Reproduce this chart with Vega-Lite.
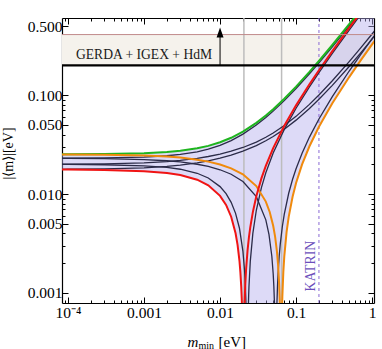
{
  "$schema": "https://vega.github.io/schema/vega-lite/v6.json",
  "width": 312,
  "height": 285,
  "autosize": {"type": "none"},
  "padding": {"left": 62, "top": 18, "right": 8, "bottom": 46},
  "background": "white",
  "config": {
    "font": "Liberation Serif",
    "view": {"stroke": null},
    "axis": {
      "domainColor": "black", "domainWidth": 1.2, "tickColor": "black", "tickWidth": 1,
      "grid": false, "labelFont": "Liberation Serif", "labelFontSize": 15.5, "labelColor": "black",
      "titleFont": "Liberation Serif", "titleFontWeight": "normal", "titleColor": "black",
      "titleFontSize": 15, "labelFlush": false, "labelOverlap": false
    }
  },
  "datasets": {
    "dark": [
      {"c":"D2","m":8e-5,"v":0.023051},{"c":"D2","m":1e-4,"v":0.023064},{"c":"D2","m":3e-4,"v":0.023201},{"c":"D2","m":1e-3,"v":0.023689},{"c":"D2","m":2e-3,"v":0.024413},{"c":"D2","m":3e-3,"v":0.02517},{"c":"D2","m":5e-3,"v":0.026767},{"c":"D2","m":7e-3,"v":0.028454},{"c":"D2","m":0.01,"v":0.031098},{"c":"D2","m":0.014,"v":0.034752},{"c":"D2","m":0.02,"v":0.040367},{"c":"D2","m":0.03,"v":0.04986},{"c":"D2","m":0.04,"v":0.059406},{"c":"D2","m":0.05,"v":0.068965},{"c":"D2","m":0.07,"v":0.088087},{"c":"D2","m":0.1,"v":0.116752},{"c":"D2","m":0.15,"v":0.164497},{"c":"D2","m":0.2,"v":0.212221},{"c":"D2","m":0.3,"v":0.307647},{"c":"D2","m":0.5,"v":0.498468},{"c":"D2","m":0.7,"v":0.689277},
      {"c":"D3","m":8e-5,"v":0.020057},{"c":"D3","m":1e-4,"v":0.02007},{"c":"D3","m":3e-4,"v":0.020203},{"c":"D3","m":1e-3,"v":0.020659},{"c":"D3","m":2e-3,"v":0.021283},{"c":"D3","m":3e-3,"v":0.021874},{"c":"D3","m":5e-3,"v":0.022973},{"c":"D3","m":7e-3,"v":0.023982},{"c":"D3","m":0.01,"v":0.025382},{"c":"D3","m":0.014,"v":0.02712},{"c":"D3","m":0.02,"v":0.029593},{"c":"D3","m":0.03,"v":0.03358},{"c":"D3","m":0.04,"v":0.037514},{"c":"D3","m":0.05,"v":0.041435},{"c":"D3","m":0.07,"v":0.049273},{"c":"D3","m":0.1,"v":0.061048},{"c":"D3","m":0.15,"v":0.080703},{"c":"D3","m":0.2,"v":0.100379},{"c":"D3","m":0.3,"v":0.139753},{"c":"D3","m":0.5,"v":0.218532},{"c":"D3","m":0.7,"v":0.297323},{"c":"D3","m":1.0,"v":0.415517},{"c":"D3","m":1.1,"v":0.454915},
      {"c":"D4","m":8e-5,"v":0.017803},{"c":"D4","m":1e-4,"v":0.017816},{"c":"D4","m":3e-4,"v":0.017949},{"c":"D4","m":1e-3,"v":0.018405},{"c":"D4","m":2e-3,"v":0.019027},{"c":"D4","m":3e-3,"v":0.019616},{"c":"D4","m":5e-3,"v":0.020707},{"c":"D4","m":7e-3,"v":0.021706},{"c":"D4","m":0.01,"v":0.023082},{"c":"D4","m":0.014,"v":0.024776},{"c":"D4","m":0.02,"v":0.027159},{"c":"D4","m":0.03,"v":0.030938},{"c":"D4","m":0.04,"v":0.034604},{"c":"D4","m":0.05,"v":0.038215},{"c":"D4","m":0.07,"v":0.045343},{"c":"D4","m":0.1,"v":0.055926},{"c":"D4","m":0.15,"v":0.073445},{"c":"D4","m":0.2,"v":0.090907},{"c":"D4","m":0.3,"v":0.125771},{"c":"D4","m":0.5,"v":0.194922},{"c":"D4","m":0.7,"v":0.265045},{"c":"D4","m":1.0,"v":0.369461},{"c":"D4","m":1.1,"v":0.404265},
      {"c":"D6","m":8e-5,"v":0.019949},{"c":"D6","m":1e-4,"v":0.019936},{"c":"D6","m":3e-4,"v":0.019799},{"c":"D6","m":1e-3,"v":0.019311},{"c":"D6","m":2e-3,"v":0.018587},{"c":"D6","m":3e-3,"v":0.01783},{"c":"D6","m":5e-3,"v":0.016233},{"c":"D6","m":7e-3,"v":0.014546},{"c":"D6","m":0.01,"v":0.011902},{"c":"D6","m":0.012,"v":0.010088},{"c":"D6","m":0.014,"v":0.008248},{"c":"D6","m":0.016,"v":0.006388},{"c":"D6","m":0.018,"v":0.004516},{"c":"D6","m":0.02,"v":0.002633},{"c":"D6","m":0.021,"v":0.001689},{"c":"D6","m":0.0215,"v":0.001216},{"c":"D6","m":0.022,"v":0.000743},{"c":"D6","m":0.0222,"v":0.000554},{"c":"D6","m":0.0225,"v":0.00027},{"c":"D6","m":0.02279,"v":0.00001},{"c":"D6","m":0.0231,"v":0.000298},{"c":"D6","m":0.0235,"v":0.000678},{"c":"D6","m":0.0238,"v":0.000962},{"c":"D6","m":0.024,"v":0.001152},{"c":"D6","m":0.025,"v":0.002102},{"c":"D6","m":0.027,"v":0.004003},{"c":"D6","m":0.03,"v":0.00686},{"c":"D6","m":0.035,"v":0.01163},{"c":"D6","m":0.04,"v":0.016406},{"c":"D6","m":0.05,"v":0.025965},{"c":"D6","m":0.07,"v":0.045087},{"c":"D6","m":0.1,"v":0.073752},{"c":"D6","m":0.15,"v":0.121497},{"c":"D6","m":0.2,"v":0.169221},{"c":"D6","m":0.3,"v":0.264647},{"c":"D6","m":0.5,"v":0.455468},{"c":"D6","m":0.7,"v":0.646277},
      {"c":"D7","m":8e-5,"v":0.022943},{"c":"D7","m":1e-4,"v":0.02293},{"c":"D7","m":3e-4,"v":0.022797},{"c":"D7","m":1e-3,"v":0.022341},{"c":"D7","m":2e-3,"v":0.021717},{"c":"D7","m":3e-3,"v":0.021126},{"c":"D7","m":5e-3,"v":0.020027},{"c":"D7","m":7e-3,"v":0.019018},{"c":"D7","m":0.01,"v":0.017618},{"c":"D7","m":0.014,"v":0.01588},{"c":"D7","m":0.02,"v":0.013407},{"c":"D7","m":0.03,"v":0.00942},{"c":"D7","m":0.04,"v":0.005486},{"c":"D7","m":0.044,"v":0.003918},{"c":"D7","m":0.048,"v":0.00235},{"c":"D7","m":0.05,"v":0.001565},{"c":"D7","m":0.051,"v":0.001174},{"c":"D7","m":0.052,"v":0.000782},{"c":"D7","m":0.053,"v":0.00039},{"c":"D7","m":0.054,"v":0.00001},{"c":"D7","m":0.055,"v":0.000394},{"c":"D7","m":0.056,"v":0.000785},{"c":"D7","m":0.057,"v":0.00118},{"c":"D7","m":0.058,"v":0.001569},{"c":"D7","m":0.06,"v":0.002354},{"c":"D7","m":0.062,"v":0.003137},{"c":"D7","m":0.066,"v":0.004704},{"c":"D7","m":0.07,"v":0.006273},{"c":"D7","m":0.08,"v":0.010197},{"c":"D7","m":0.09,"v":0.014121},{"c":"D7","m":0.1,"v":0.018048},{"c":"D7","m":0.12,"v":0.025906},{"c":"D7","m":0.15,"v":0.037703},{"c":"D7","m":0.2,"v":0.057379},{"c":"D7","m":0.3,"v":0.096753},{"c":"D7","m":0.5,"v":0.175532},{"c":"D7","m":0.7,"v":0.254323},{"c":"D7","m":1.0,"v":0.372517},{"c":"D7","m":1.1,"v":0.411915}
    ],
    "colored": [
      {"c":"G","m":8e-5,"v":0.025305},{"c":"G","m":1e-4,"v":0.025318},{"c":"G","m":3e-4,"v":0.025455},{"c":"G","m":1e-3,"v":0.025943},{"c":"G","m":2e-3,"v":0.026669},{"c":"G","m":3e-3,"v":0.027428},{"c":"G","m":5e-3,"v":0.029033},{"c":"G","m":7e-3,"v":0.03073},{"c":"G","m":0.01,"v":0.033398},{"c":"G","m":0.014,"v":0.037096},{"c":"G","m":0.02,"v":0.042801},{"c":"G","m":0.03,"v":0.052502},{"c":"G","m":0.04,"v":0.062316},{"c":"G","m":0.05,"v":0.072185},{"c":"G","m":0.07,"v":0.092017},{"c":"G","m":0.1,"v":0.121874},{"c":"G","m":0.15,"v":0.171755},{"c":"G","m":0.2,"v":0.221693},{"c":"G","m":0.3,"v":0.321629},{"c":"G","m":0.5,"v":0.521578},{"c":"G","m":0.7,"v":0.721555},
      {"c":"O","m":8e-5,"v":0.025197},{"c":"O","m":1e-4,"v":0.025184},{"c":"O","m":3e-4,"v":0.025051},{"c":"O","m":1e-3,"v":0.024595},{"c":"O","m":2e-3,"v":0.023973},{"c":"O","m":3e-3,"v":0.023384},{"c":"O","m":5e-3,"v":0.022293},{"c":"O","m":7e-3,"v":0.021294},{"c":"O","m":0.01,"v":0.019918},{"c":"O","m":0.014,"v":0.018224},{"c":"O","m":0.02,"v":0.015841},{"c":"O","m":0.03,"v":0.012062},{"c":"O","m":0.04,"v":0.008396},{"c":"O","m":0.045,"v":0.00659},{"c":"O","m":0.05,"v":0.004785},{"c":"O","m":0.053,"v":0.003713},{"c":"O","m":0.056,"v":0.002637},{"c":"O","m":0.058,"v":0.001924},{"c":"O","m":0.06,"v":0.00121},{"c":"O","m":0.061,"v":0.000854},{"c":"O","m":0.062,"v":0.000497},{"c":"O","m":0.0625,"v":0.00032},{"c":"O","m":0.0634,"v":0.00001},{"c":"O","m":0.0643,"v":0.00032},{"c":"O","m":0.065,"v":0.000568},{"c":"O","m":0.066,"v":0.000924},{"c":"O","m":0.068,"v":0.001634},{"c":"O","m":0.07,"v":0.002343},{"c":"O","m":0.075,"v":0.004114},{"c":"O","m":0.08,"v":0.005881},{"c":"O","m":0.09,"v":0.009407},{"c":"O","m":0.1,"v":0.012926},{"c":"O","m":0.12,"v":0.019944},{"c":"O","m":0.15,"v":0.030445},{"c":"O","m":0.2,"v":0.047907},{"c":"O","m":0.3,"v":0.082771},{"c":"O","m":0.5,"v":0.152422},{"c":"O","m":0.7,"v":0.222045},{"c":"O","m":1.0,"v":0.326461},{"c":"O","m":1.1,"v":0.361265},
      {"c":"R","m":8e-5,"v":0.017695},{"c":"R","m":1e-4,"v":0.017682},{"c":"R","m":3e-4,"v":0.017545},{"c":"R","m":1e-3,"v":0.017057},{"c":"R","m":2e-3,"v":0.016331},{"c":"R","m":3e-3,"v":0.015572},{"c":"R","m":5e-3,"v":0.013967},{"c":"R","m":7e-3,"v":0.01227},{"c":"R","m":0.01,"v":0.009602},{"c":"R","m":0.012,"v":0.007768},{"c":"R","m":0.014,"v":0.005904},{"c":"R","m":0.016,"v":0.004018},{"c":"R","m":0.017,"v":0.003068},{"c":"R","m":0.018,"v":0.002116},{"c":"R","m":0.0185,"v":0.001636},{"c":"R","m":0.019,"v":0.001158},{"c":"R","m":0.0193,"v":0.00087},{"c":"R","m":0.0196,"v":0.000582},{"c":"R","m":0.0199,"v":0.000295},{"c":"R","m":0.0202,"v":0.00001},{"c":"R","m":0.0205,"v":0.000282},{"c":"R","m":0.0208,"v":0.00057},{"c":"R","m":0.0211,"v":0.000859},{"c":"R","m":0.0215,"v":0.001245},{"c":"R","m":0.022,"v":0.001727},{"c":"R","m":0.023,"v":0.002694},{"c":"R","m":0.024,"v":0.003662},{"c":"R","m":0.025,"v":0.004632},{"c":"R","m":0.027,"v":0.006577},{"c":"R","m":0.03,"v":0.009502},{"c":"R","m":0.035,"v":0.0144},{"c":"R","m":0.04,"v":0.019316},{"c":"R","m":0.05,"v":0.029185},{"c":"R","m":0.07,"v":0.049017},{"c":"R","m":0.1,"v":0.078874},{"c":"R","m":0.15,"v":0.128755},{"c":"R","m":0.2,"v":0.178693},{"c":"R","m":0.3,"v":0.278629},{"c":"R","m":0.5,"v":0.478578},{"c":"R","m":0.7,"v":0.678555}
    ],
    "band": [
      {"m":8e-5,"lo":0.017695,"hi":0.025305},{"m":1e-4,"lo":0.017682,"hi":0.025318},{"m":3e-4,"lo":0.017545,"hi":0.025455},{"m":1e-3,"lo":0.017057,"hi":0.025943},{"m":2e-3,"lo":0.016331,"hi":0.026669},{"m":3e-3,"lo":0.015572,"hi":0.027428},{"m":5e-3,"lo":0.013967,"hi":0.029033},{"m":7e-3,"lo":0.01227,"hi":0.03073},{"m":0.01,"lo":0.009602,"hi":0.033398},{"m":0.012,"lo":0.007768,"hi":0.035232},{"m":0.014,"lo":0.005904,"hi":0.037096},{"m":0.016,"lo":0.004018,"hi":0.038982},{"m":0.017,"lo":0.003068,"hi":0.039932},{"m":0.018,"lo":0.002116,"hi":0.040884},{"m":0.0185,"lo":0.001636,"hi":0.041363},{"m":0.019,"lo":0.001158,"hi":0.041842},{"m":0.0193,"lo":0.00087,"hi":0.04213},{"m":0.0196,"lo":0.000582,"hi":0.042418},{"m":0.0199,"lo":0.000295,"hi":0.042705},{"m":0.0202,"lo":0.00001,"hi":0.042993},{"m":0.03,"lo":0.00001,"hi":0.052502},{"m":0.04,"lo":0.00001,"hi":0.062316},{"m":0.05,"lo":0.00001,"hi":0.072185},{"m":0.0634,"lo":0.00001,"hi":0.085463},{"m":0.0643,"lo":0.00032,"hi":0.08636},{"m":0.065,"lo":0.000568,"hi":0.08705},{"m":0.066,"lo":0.000924,"hi":0.088044},{"m":0.068,"lo":0.001634,"hi":0.09003},{"m":0.07,"lo":0.002343,"hi":0.092017},{"m":0.075,"lo":0.004114,"hi":0.096986},{"m":0.08,"lo":0.005881,"hi":0.101959},{"m":0.09,"lo":0.009407,"hi":0.111913},{"m":0.1,"lo":0.012926,"hi":0.121874},{"m":0.12,"lo":0.019944,"hi":0.141816},{"m":0.15,"lo":0.030445,"hi":0.171755},{"m":0.2,"lo":0.047907,"hi":0.221693},{"m":0.3,"lo":0.082771,"hi":0.321629},{"m":0.5,"lo":0.152422,"hi":0.521578},{"m":0.7,"lo":0.222045,"hi":0.721555},{"m":1.0,"lo":0.326461,"hi":1.021539},{"m":1.1,"lo":0.361265,"hi":1.121535}
    ]
  },
  "layer": [
    {
      "data": {"values": [{"lo": 0.2, "hi": 0.41}]},
      "mark": {"type": "rect", "color": "#f5f2ec"},
      "encoding": {
        "y": {"field": "hi", "type": "quantitative", "scale": {"type": "log", "domain": [0.000792, 0.603], "nice": false}, "axis": null},
        "y2": {"field": "lo"}
      }
    },
    {
      "data": {"name": "band"},
      "mark": {"type": "area", "color": "#b3adee", "opacity": 0.45, "clip": true},
      "encoding": {
        "x": {"field": "m", "type": "quantitative", "scale": {"type": "log", "domain": [8.33e-5, 1.06], "nice": false},
          "axis": {"orient": "bottom",
            "values": [9e-5,1e-4,2e-4,3e-4,4e-4,5e-4,6e-4,7e-4,8e-4,9e-4,0.001,0.002,0.003,0.004,0.005,0.006,0.007,0.008,0.009,0.01,0.02,0.03,0.04,0.05,0.06,0.07,0.08,0.09,0.1,0.2,0.3,0.4,0.5,0.6,0.7,0.8,0.9,1],
            "labelExpr": "abs(datum.value - 0.0001) < 1e-9 ? '10⁻⁴' : (substring(format(datum.value,'.0e'),0,1) == '1' ? format(datum.value,'~g') : '')",
            "tickSize": {"condition": {"test": "substring(format(datum.value,'.0e'),0,1) == '1'", "value": -6}, "value": -3},
            "labelPadding": 8,
            "title": "m", "titleFontStyle": "italic", "titleX": 125, "titleY": 43, "titleAlign": "left", "titleBaseline": "alphabetic", "titleAngle": 0}},
        "y": {"field": "hi", "type": "quantitative", "scale": {"type": "log", "domain": [0.000792, 0.603], "nice": false},
          "axis": {"orient": "left",
            "values": [0.001,0.002,0.003,0.004,0.005,0.006,0.007,0.008,0.009,0.01,0.02,0.03,0.04,0.05,0.06,0.07,0.08,0.09,0.1,0.2,0.3,0.4,0.5],
            "labelExpr": "indexof(['0.001','0.005','0.010','0.050','0.100','0.500'], format(datum.value,'.3f')) >= 0 ? format(datum.value,'.3f') : ''",
            "tickSize": {"condition": {"test": "indexof(['0.001','0.005','0.010','0.050','0.100','0.500'], format(datum.value,'.3f')) >= 0", "value": -6}, "value": -3},
            "labelPadding": 6,
            "title": "|⟨m⟩|[eV]", "titleAngle": 270, "titleX": -50, "titleY": 135, "titleAlign": "center", "titleBaseline": "alphabetic", "titleFontSize": 14}},
        "y2": {"field": "lo"}
      }
    },
    {
      "data": {"values": [{"m": 0.0206}, {"m": 0.0645}]},
      "mark": {"type": "rule", "color": "#bdbdbd", "strokeWidth": 1.5},
      "encoding": {"x": {"field": "m", "type": "quantitative", "scale": {"type": "log", "domain": [8.33e-5, 1.06], "nice": false}, "axis": null}}
    },
    {
      "data": {"values": [{"m": 0.2}]},
      "mark": {"type": "rule", "color": "#8a6ad4", "strokeWidth": 1, "strokeDash": [3, 3]},
      "encoding": {"x": {"field": "m", "type": "quantitative", "scale": {"type": "log", "domain": [8.33e-5, 1.06], "nice": false}, "axis": null}}
    },
    {
      "data": {"name": "dark"},
      "mark": {"type": "line", "color": "#2b2b48", "strokeWidth": 1.3, "clip": true},
      "encoding": {
        "x": {"field": "m", "type": "quantitative", "scale": {"type": "log", "domain": [8.33e-5, 1.06], "nice": false},
          "axis": {"orient": "top", "labels": false,
            "values": [9e-5,1e-4,2e-4,3e-4,4e-4,5e-4,6e-4,7e-4,8e-4,9e-4,0.001,0.002,0.003,0.004,0.005,0.006,0.007,0.008,0.009,0.01,0.02,0.03,0.04,0.05,0.06,0.07,0.08,0.09,0.1,0.2,0.3,0.4,0.5,0.6,0.7,0.8,0.9,1],
            "tickSize": {"condition": {"test": "substring(format(datum.value,'.0e'),0,1) == '1'", "value": -6}, "value": -3},
            "title": "min", "titleFontSize": 10, "titleX": 136, "titleY": 330, "titleAlign": "left", "titleBaseline": "alphabetic", "titleAngle": 0}},
        "y": {"field": "v", "type": "quantitative", "scale": {"type": "log", "domain": [0.000792, 0.603], "nice": false},
          "axis": {"orient": "right", "labels": false,
            "values": [0.001,0.002,0.003,0.004,0.005,0.006,0.007,0.008,0.009,0.01,0.02,0.03,0.04,0.05,0.06,0.07,0.08,0.09,0.1,0.2,0.3,0.4,0.5],
            "tickSize": {"condition": {"test": "indexof(['0.001','0.005','0.010','0.050','0.100','0.500'], format(datum.value,'.3f')) >= 0", "value": -6}, "value": -3},
            "title": "[eV]", "titleAngle": 0, "titleX": -156, "titleY": 328, "titleAlign": "left", "titleBaseline": "alphabetic"}},
        "detail": {"field": "c", "type": "nominal"}
      }
    },
    {
      "data": {"name": "colored"},
      "mark": {"type": "line", "strokeWidth": 2, "clip": true},
      "encoding": {
        "x": {"field": "m", "type": "quantitative", "scale": {"type": "log", "domain": [8.33e-5, 1.06], "nice": false}, "axis": null},
        "y": {"field": "v", "type": "quantitative", "scale": {"type": "log", "domain": [0.000792, 0.603], "nice": false}, "axis": null},
        "color": {"field": "c", "type": "nominal", "scale": {"domain": ["G", "O", "R"], "range": ["#1fb51f", "#f08a0c", "#f01414"]}, "legend": null}
      }
    },
    {
      "data": {"values": [{"y": 0.41, "k": "top"}]},
      "mark": {"type": "rule", "color": "#c08a8a", "strokeWidth": 1},
      "encoding": {"y": {"field": "y", "type": "quantitative", "scale": {"type": "log", "domain": [0.000792, 0.603], "nice": false}, "axis": null}}
    },
    {
      "data": {"values": [{"y": 0.2, "k": "bound"}]},
      "mark": {"type": "rule", "color": "black", "strokeWidth": 2.2},
      "encoding": {"y": {"field": "y", "type": "quantitative", "scale": {"type": "log", "domain": [0.000792, 0.603], "nice": false}, "axis": null}}
    },
    {
      "data": {"values": [{"m": 0.01, "y1": 0.2, "y2": 0.42}]},
      "mark": {"type": "rule", "color": "black", "strokeWidth": 1},
      "encoding": {
        "x": {"field": "m", "type": "quantitative", "scale": {"type": "log", "domain": [8.33e-5, 1.06], "nice": false}, "axis": null},
        "y": {"field": "y1", "type": "quantitative", "scale": {"type": "log", "domain": [0.000792, 0.603], "nice": false}, "axis": null},
        "y2": {"field": "y2"}
      }
    },
    {
      "data": {"values": [{"m": 0.01, "y": 0.43}]},
      "mark": {"type": "point", "shape": "M0,-1L0.7,1L-0.7,1Z", "size": 100, "filled": true, "color": "black", "opacity": 1},
      "encoding": {
        "x": {"field": "m", "type": "quantitative", "scale": {"type": "log", "domain": [8.33e-5, 1.06], "nice": false}, "axis": null},
        "y": {"field": "y", "type": "quantitative", "scale": {"type": "log", "domain": [0.000792, 0.603], "nice": false}, "axis": null}
      }
    },
    {
      "data": {"values": [{"m": 0.001, "y": 0.255, "t": "GERDA + IGEX + HdM"}]},
      "mark": {"type": "text", "font": "Liberation Serif", "fontSize": 13.6, "color": "#1a1a1a", "align": "center", "baseline": "middle"},
      "encoding": {
        "x": {"field": "m", "type": "quantitative", "scale": {"type": "log", "domain": [8.33e-5, 1.06], "nice": false}, "axis": null},
        "y": {"field": "y", "type": "quantitative", "scale": {"type": "log", "domain": [0.000792, 0.603], "nice": false}, "axis": null},
        "text": {"field": "t"}
      }
    },
    {
      "data": {"values": [{"m": 0.2, "y": 0.00187, "t": "KATRIN"}]},
      "mark": {"type": "text", "font": "Liberation Serif", "fontSize": 13.8, "color": "#6b4fbb", "align": "center", "baseline": "alphabetic", "angle": 270, "dy": -4},
      "encoding": {
        "x": {"field": "m", "type": "quantitative", "scale": {"type": "log", "domain": [8.33e-5, 1.06], "nice": false}, "axis": null},
        "y": {"field": "y", "type": "quantitative", "scale": {"type": "log", "domain": [0.000792, 0.603], "nice": false}, "axis": null},
        "text": {"field": "t"}
      }
    }
  ],
  "resolve": {"axis": {"x": "independent", "y": "independent"}}
}
